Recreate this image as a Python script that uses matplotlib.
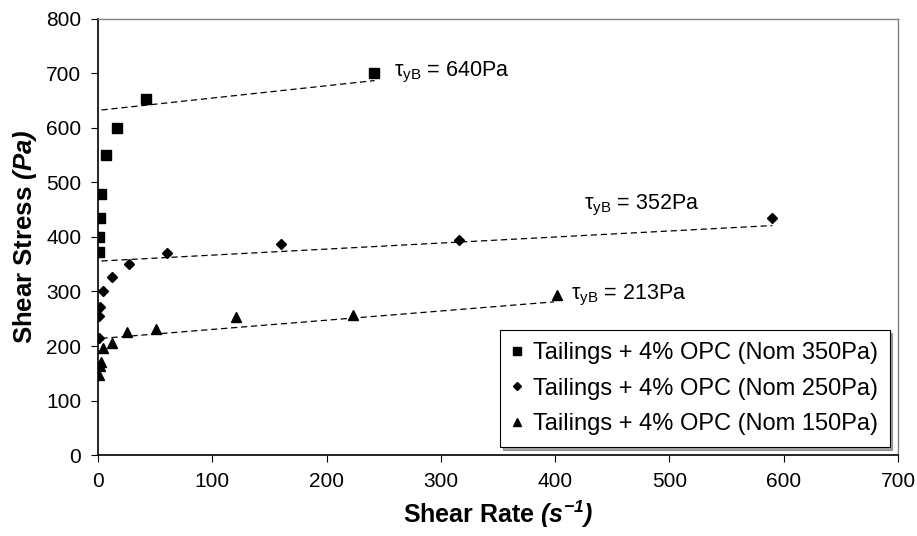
import matplotlib
matplotlib.use('Agg')
import matplotlib.pyplot as plt

plt.rcParams['font.family'] = ['Liberation Sans', 'DejaVu Sans']
plt.rcParams['mathtext.fontset'] = 'custom'
plt.rcParams['mathtext.rm'] = 'Liberation Sans'
plt.rcParams['mathtext.it'] = 'Liberation Sans:italic'
plt.rcParams['mathtext.bf'] = 'Liberation Sans:bold'
plt.rcParams['mathtext.bfit'] = 'Liberation Sans:bold:italic'

# measured points (shear rate 1/s, shear stress Pa)
x350 = [0.9, 0.9, 1.7, 2.6, 7.3, 16.3, 41.7, 241.5]
y350 = [372, 400, 435, 479, 550, 600, 654, 700]
x250 = [0.9, 0.9, 1.7, 4.0, 12.0, 27.0, 60.6, 160.0, 316.0, 590.0]
y250 = [215, 255, 272, 301, 327, 350, 370, 388, 395, 434]
x150 = [0.9, 1.7, 2.6, 4.6, 12.5, 25.6, 51.0, 121.0, 223.0, 401.5]
y150 = [147, 163, 171, 196, 205, 226, 231, 254, 257, 293]

# Bingham fit lines (end points)
fit350_x = [3, 242]
fit350_y = [633, 687]
fit250_x = [3, 590]
fit250_y = [356, 421]
fit150_x = [3, 399]
fit150_y = [214, 281]

labels = ['Tailings + 4% OPC (Nom 350Pa)',
          'Tailings + 4% OPC (Nom 250Pa)',
          'Tailings + 4% OPC (Nom 150Pa)']
annotations = [(259, 702, 'τ$_{\\mathrm{yB}}$ = 640Pa'),
               (425, 458, 'τ$_{\\mathrm{yB}}$ = 352Pa'),
               (414, 293, 'τ$_{\\mathrm{yB}}$ = 213Pa')]

fig = plt.figure(figsize=(9.17, 5.36), dpi=100)
ax = fig.add_axes([0.1069, 0.1511, 0.8724, 0.8135])

ax.plot(x350, y350, 's', color='black', markersize=7.5, label=labels[0], zorder=3)
ax.plot(x250, y250, 'D', color='black', markersize=5.5, label=labels[1], zorder=3)
ax.plot(x150, y150, '^', color='black', markersize=7.5, label=labels[2], zorder=3)

for fx, fy in [(fit350_x, fit350_y), (fit250_x, fit250_y), (fit150_x, fit150_y)]:
    ax.plot(fx, fy, '--', color='black', linewidth=0.9, dashes=(5, 3), zorder=2)

for tx, ty, txt in annotations:
    ax.text(tx, ty, txt, fontsize=15.5, va='center', ha='left')

ax.set_xlim(0, 700)
ax.set_ylim(0, 800)
ax.set_xticks(range(0, 701, 100))
ax.set_yticks(range(0, 801, 100))
ax.tick_params(direction='out', length=5, labelsize=15, pad=7)

for s in ['top', 'right']:
    ax.spines[s].set_color('#808080')
    ax.spines[s].set_linewidth(1.0)
for s in ['left', 'bottom']:
    ax.spines[s].set_linewidth(1.2)

ax.set_xlabel(r'Shear Rate $\mathbfit{(s^{-1})}$', fontsize=18, fontweight='bold', labelpad=6)
ax.set_ylabel(r'Shear Stress $\mathbfit{(Pa)}$', fontsize=18.5, fontweight='bold', labelpad=5)

leg = ax.legend(loc='lower right', bbox_to_anchor=(0.9895, 0.018), fontsize=17,
                frameon=True, fancybox=False, shadow=True, handlelength=0.5,
                handletextpad=0.4, borderpad=0.5, labelspacing=0.58, markerscale=0.75,
                borderaxespad=0)
leg.get_frame().set_edgecolor('black')
leg.get_frame().set_linewidth(0.8)

plt.savefig('out.png', dpi=100)
